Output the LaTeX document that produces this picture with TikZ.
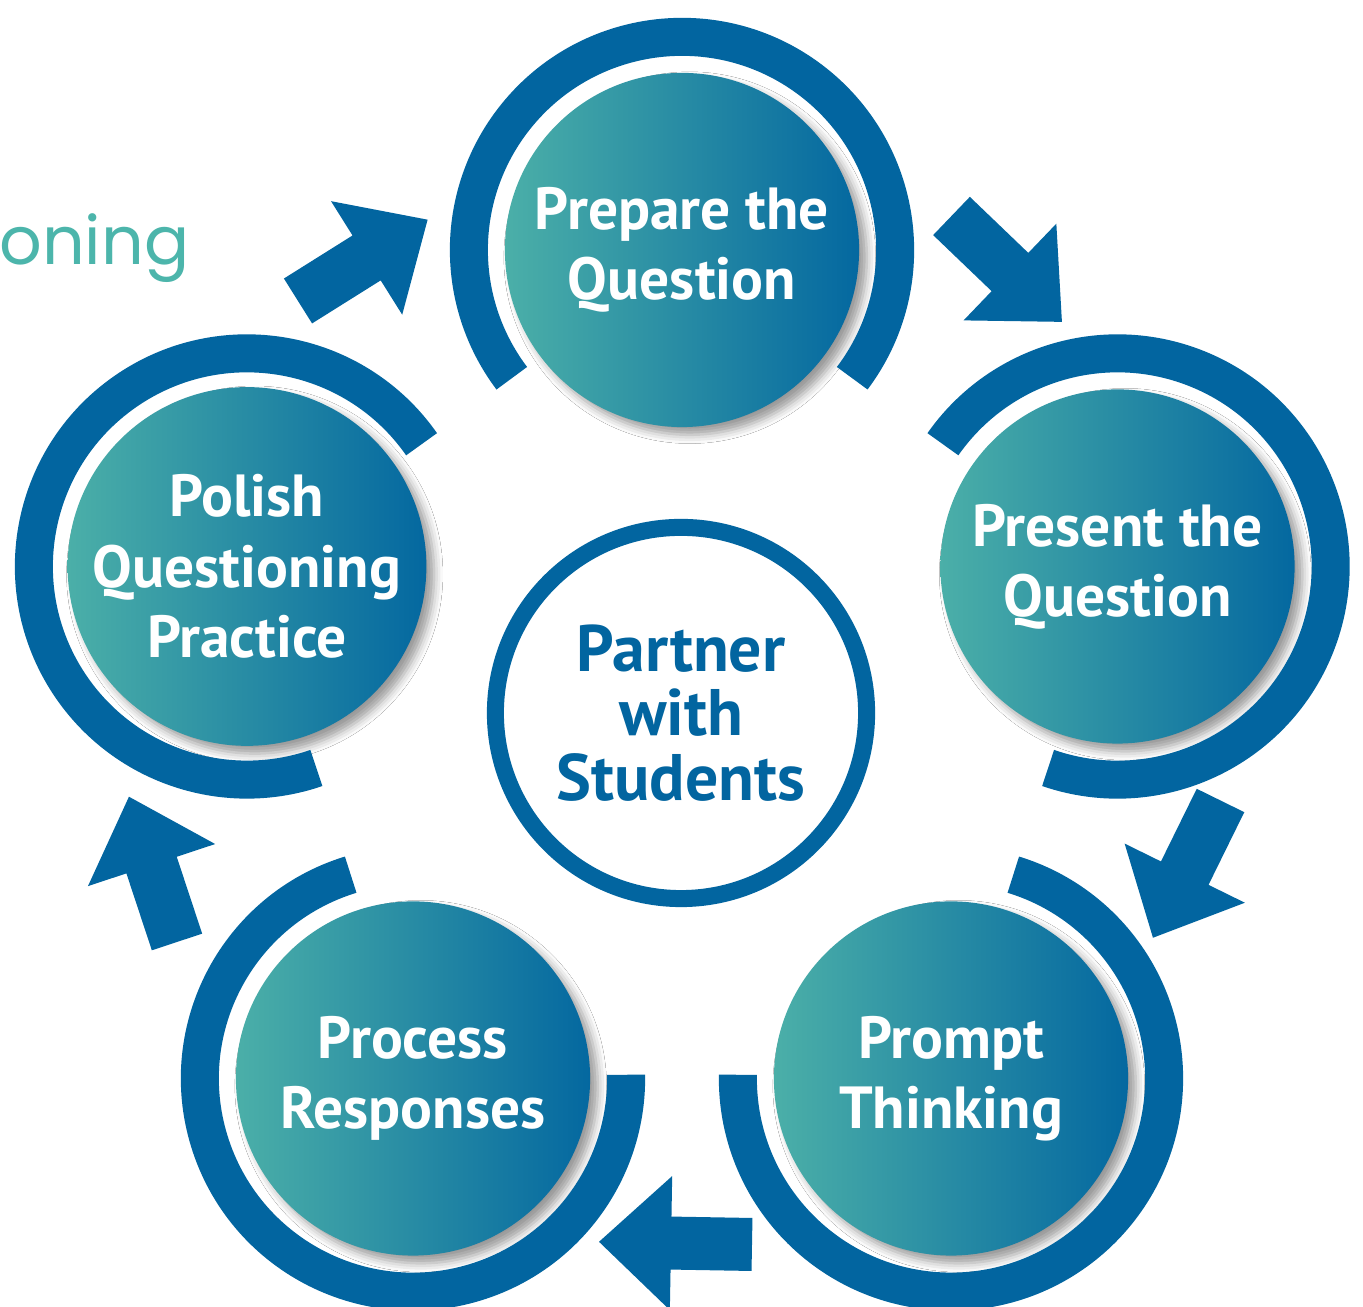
\documentclass[tikz,border=0pt]{standalone}
\usepackage{fontspec}
\setmainfont{PT Sans}
\newfontfamily\titlefont{Poppins}
\usetikzlibrary{shadows.blur,backgrounds}
\definecolor{ringblue}{HTML}{0265A0}
\definecolor{gradL}{HTML}{4BAFA8}
\definecolor{gradM}{HTML}{0883A6}
\definecolor{gradR}{HTML}{0468A0}
\definecolor{titleteal}{HTML}{4CB5AB}
\tikzset{
  stage/.style={circle, minimum size=3.54cm, inner sep=0pt,
    left color=gradL, middle color=gradM, right color=gradR,
    text=white, align=center,
    font=\bfseries\fontsize{16.9pt}{20pt}\selectfont,
    blur shadow={shadow xshift=2.2pt, shadow yshift=-2.2pt, shadow blur radius=2.5pt, shadow opacity=40}},
  hub/.style={circle, minimum size=3.71cm, inner sep=0pt, draw=ringblue,
    line width=0.17cm, fill=white, text=ringblue, align=center,
    font=\bfseries\fontsize{18.7pt}{18.4pt}\selectfont},
  ring/.style={draw=ringblue, line width=0.38cm},
  spoke/.style={draw=ringblue, line width=0.17cm},
  titletext/.style={text=titleteal, inner sep=0pt, font=\titlefont\fontsize{19pt}{23pt}\selectfont},
  blockarrow/.pic={\fill[ringblue] (0,-26.5) -- (81,-26.5) -- (81,-67) -- (153,0) -- (81,67) -- (81,26.5) -- (0,26.5) -- cycle;}
}
\begin{document}
\begin{tikzpicture}[x=0.01cm,y=0.01cm]
\useasboundingbox (0,0) rectangle (1363,1307);
\fill[white] (0,0) rectangle (1363,1307);
% title fragment
\node[titletext, anchor=base east] (title) at (190,1042) {oning};
% nodes
\node[hub] (hub) at (681,594) {Partner\\with\\Students};
\node[stage] (prep) at (682,1057) {Prepare the\\Question};
\node[stage] (pres) at (1117.5,740.5) {Present the\\Question};
\node[stage] (prompt) at (951,228.5) {Prompt\\Thinking};
\node[stage] (proc) at (413,228.5) {Process\\Responses};
\node[stage] (polish) at (247,740.5) {Polish\\Questioning\\Practice};
% spokes
\begin{scope}[on background layer]
\draw[spoke] (hub.center) -- (prep.center);
\draw[spoke] (hub.center) -- (pres.center);
\draw[spoke] (hub.center) -- (prompt.center);
\draw[spoke] (hub.center) -- (proc.center);
\draw[spoke] (hub.center) -- (polish.center);
\end{scope}
% outer rings
\draw[ring] (prep.center) ++(-37:2.13cm) arc[start angle=-37, end angle=217, radius=2.13cm];
\draw[ring] (pres.center) ++(-109:2.13cm) arc[start angle=-109, end angle=145, radius=2.13cm];
\draw[ring] (prompt.center) ++(-181:2.13cm) arc[start angle=-181, end angle=73, radius=2.13cm];
\draw[ring] (proc.center) ++(107:2.13cm) arc[start angle=107, end angle=361, radius=2.13cm];
\draw[ring] (polish.center) ++(35:2.13cm) arc[start angle=35, end angle=289, radius=2.13cm];
% block arrows
\pic[rotate=-43.8] at (951.5,1091) {blockarrow};
\pic[rotate=243.8] at (1220.5,506.5) {blockarrow};
\pic[rotate=179] at (752,62.5) {blockarrow};
\pic[rotate=108.3] at (177,365) {blockarrow};
\pic[rotate=32.1] at (298,1006) {blockarrow};
\end{tikzpicture}
\end{document}
